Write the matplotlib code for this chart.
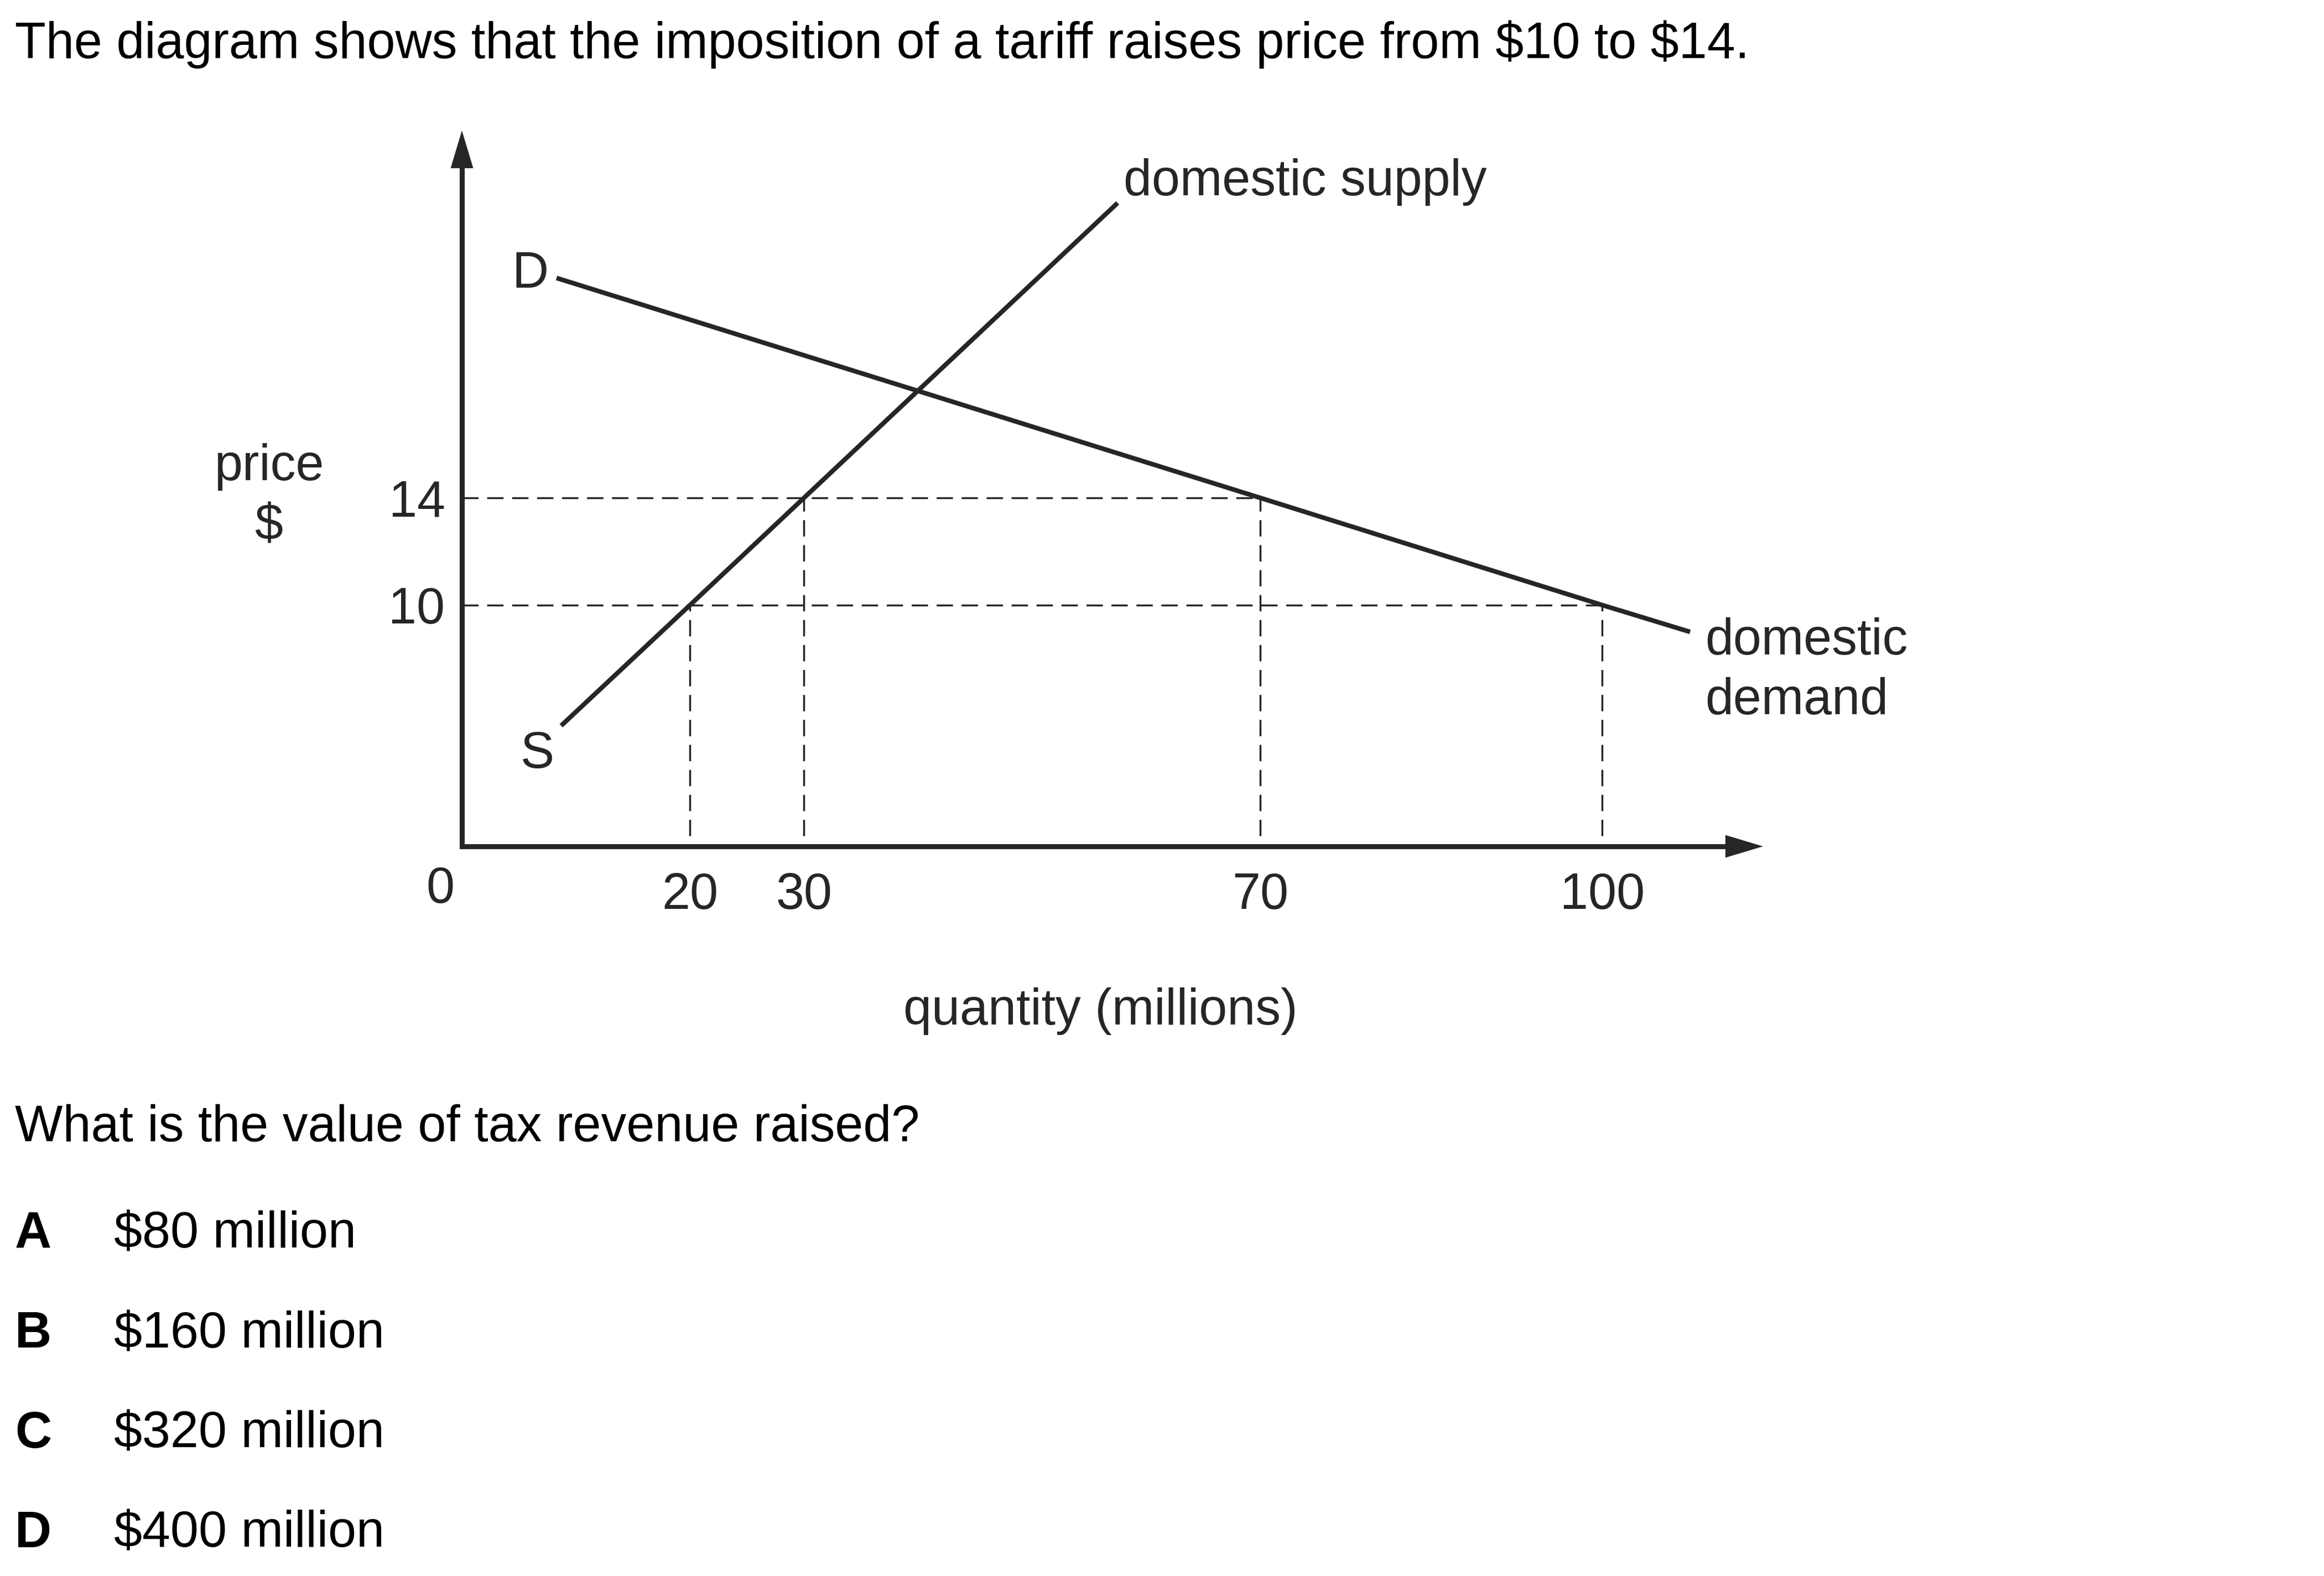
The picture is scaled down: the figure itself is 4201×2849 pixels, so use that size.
import matplotlib.pyplot as plt

plt.rcParams['font.family'] = ['Liberation Sans', 'DejaVu Sans']
plt.rcParams['text.parse_math'] = False

# Datos del diagrama
supply_q = [8.7, 20, 30, 57.5]
supply_p = [5.5, 10, 14, 25.0]
demand_q = [8.3, 70, 100, 107.7]
demand_p = [22.2, 14, 10, 9.0]

prices = [10, 14]
qty_at_10 = [20, 100]   # oferta y demanda a $10
qty_at_14 = [30, 70]    # oferta y demanda a $14
x_ticks = [20, 30, 70, 100]

title = "The diagram shows that the imposition of a tariff raises price from $10 to $14."
question = "What is the value of tax revenue raised?"
letters = ["A", "B", "C", "D"]
answers = ["$80 million", "$160 million", "$320 million", "$400 million"]

W, H = 4201, 2849
fig = plt.figure(figsize=(W / 100, H / 100), dpi=100)

# Ejes en pixeles de la imagen
x_max, y_min, y_max = 114.1, 1.0, 27.7
left, right, top, bottom = 835, 3187, 236, 1530
ax = fig.add_axes([left / W, 1 - bottom / H, (right - left) / W, (bottom - top) / H])
ax.set_xlim(0, x_max)
ax.set_ylim(y_min, y_max)
for s in ax.spines.values():
    s.set_visible(False)

ink = '#262626'
fs = 66
dy = 0.17  # ajuste vertical del texto

# Ejes con flechas
ax.plot([0, 0, x_max - 2], [y_max - 1.0, y_min, y_min], color=ink, lw=6.5,
        solid_joinstyle='miter', clip_on=False)
arrow = dict(arrowstyle='-|>,head_length=0.7,head_width=0.21', color=ink, lw=0,
             mutation_scale=70, shrinkA=0, shrinkB=0)
ax.annotate('', xy=(x_max, y_min), xytext=(x_max - 4, y_min), arrowprops=arrow,
            annotation_clip=False)
ax.annotate('', xy=(0, y_max), xytext=(0, y_max - 2), arrowprops=arrow,
            annotation_clip=False)

# Lineas punteadas
dash = dict(color=ink, lw=2.5, linestyle=(0, (8.5, 4.5)), clip_on=False)
for p, qs in zip(prices, [qty_at_10, qty_at_14]):
    ax.plot([0, max(qs)], [p, p], **dash)
    for q in qs:
        ax.plot([q, q], [y_min + 0.4, p], **dash)

# Curvas
ax.plot(demand_q, demand_p, color=ink, lw=6, solid_capstyle='butt')
ax.plot(supply_q, supply_p, color=ink, lw=6, solid_capstyle='butt')

# Marcas de ejes
ax.set_xticks(x_ticks)
ax.set_xticklabels([str(t) for t in x_ticks])
ax.set_yticks(prices)
ax.set_yticklabels([str(p) for p in prices])
ax.tick_params(length=0, labelsize=fs, colors=ink)
ax.tick_params(axis='x', pad=33)
ax.tick_params(axis='y', pad=22)
ax.text(-1.9, y_min - 1.6, "0", fontsize=fs, color=ink, ha='center', va='center')

# Etiquetas
ax.text(6.0, 22.5 - dy, "D", fontsize=fs, color=ink, ha='center', va='center')
ax.text(6.6, 4.6 - dy, "S", fontsize=fs, color=ink, ha='center', va='center')
ax.text(58.0, 25.95 - dy, "domestic supply", fontsize=fs, color=ink, ha='left', va='center')
ax.text(109.0, 7.8 - 1.5 * dy, "domestic\ndemand", fontsize=fs, color=ink, ha='left',
        va='center', linespacing=1.33, clip_on=False)
ax.text(-16.9, 14.3 - 1.5 * dy, "price\n$", fontsize=fs, color=ink, ha='center',
        va='center', linespacing=1.33, clip_on=False)
ax.text(56.0, -4.97 - dy, "quantity (millions)", fontsize=fs, color=ink, ha='center',
        va='center', clip_on=False)

# Texto de la pregunta
off = 8
fig.text(27 / W, 1 - (72 + off) / H, title, fontsize=fs, color='black', ha='left', va='center')
fig.text(27 / W, 1 - (2031 + off) / H, question, fontsize=fs, color='black', ha='left',
         va='center')
for i, (l, a) in enumerate(zip(letters, answers)):
    y = 1 - (2224 + off + i * 180.3) / H
    fig.text(27 / W, y, l, fontsize=fs, fontweight='bold', color='black', ha='left', va='center')
    fig.text(206 / W, y, a, fontsize=fs, color='black', ha='left', va='center')

plt.savefig('out.png', dpi=100, facecolor='white')
